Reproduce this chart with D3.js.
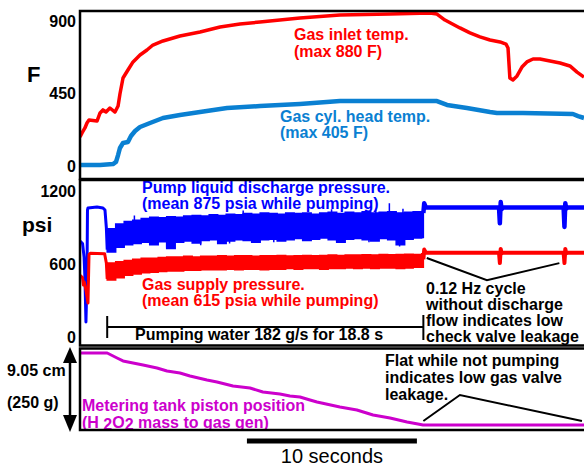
<!DOCTYPE html>
<html>
<head>
<meta charset="utf-8">
<script src="https://cdn.jsdelivr.net/npm/d3@7"></script>
<style>
    body { margin: 0; background: #fff; }
    svg text { font-family: "Liberation Sans", Arial, Helvetica, sans-serif; }
</style>
</head>
<body>
<div id="chart"></div>
<script>
// Test firing trace: temperatures, pressures, metering tank piston

// --- data (time in seconds) ---
const tempTicks = [0, 450, 900];
const psiTicks = [0, 600, 1200];

const inletTime = [0, 0.12, 0.29, 0.41, 0.53, 1.0, 1.18, 1.35, 1.53, 1.76, 2.06, 2.24, 2.35, 2.53, 2.82, 3.12,
    3.53, 3.94, 4.29, 4.88, 5.88, 7.06, 8.24, 9.41, 10.59, 11.76, 12.94, 15.29, 18.24, 20.59, 21.0, 21.47,
    22.35, 22.94, 23.53, 24.12, 24.71, 25.06, 25.18, 25.29, 25.47, 25.71, 26.0, 26.29, 26.65, 27.06, 27.65,
    28.24, 28.82, 29.24, 29.65];
const inletTemp = [180, 205, 236, 267, 286, 279, 329, 348, 335, 360, 335, 372, 447, 546, 596, 646,
    689, 720, 751, 776, 807, 832, 863, 881, 894, 906, 919, 937, 943, 950, 943, 906,
    857, 826, 801, 782, 770, 757, 732, 546, 534, 559, 614, 646, 664, 664, 652,
    639, 621, 583, 552];

const headTime = [0, 1.18, 1.94, 2.12, 2.24, 2.35, 2.53, 2.82, 3.0, 3.24, 3.53, 4.12, 4.88, 5.88, 7.06, 8.65,
    10.59, 12.94, 15.29, 18.24, 21.0, 21.59, 22.76, 24.12, 24.53, 26.06, 29.0, 29.3, 29.65];
const headTemp = [6, 6, 12, 25, 68, 112, 143, 149, 186, 217, 242, 267, 298, 317, 335, 360,
    372, 385, 403, 403, 403, 379, 360, 335, 329, 329, 323, 310, 298];

// before pumping
const pumpPreTime = [0, 0.15, 0.24, 0.29, 0.35, 0.41, 0.44, 0.47, 1.0, 1.35, 1.47, 1.55, 1.6];
const pumpPre = [790, 770, 659, 487, 127, 471, 1044, 1061, 1069, 1061, 1044, 900, 720];
const gasPreTime = [0, 0.15, 0.2, 0.25, 0.35, 0.47, 0.53, 0.6, 1.45, 1.55, 1.6];
const gasPre = [510, 490, 430, 455, 390, 283, 680, 690, 685, 610, 480];

// while pumping: envelope of the pressure oscillation
const bandTime = [1.6, 2.1, 2.6, 3.1, 3.6, 4.1, 4.6, 5.1, 5.6, 6.1, 6.6, 7.1, 7.6, 8.1, 8.6, 9.1, 9.6, 10.1,
    10.6, 11.1, 11.6, 12.1, 12.6, 13.1, 13.6, 14.1, 14.6, 15.1, 15.6, 16.1, 16.6, 17.1, 17.6, 18.1, 18.6,
    19.1, 19.6, 20.1, 20.2];
const pumpHi = [890, 930, 950, 960, 975, 985, 980, 990, 985, 995, 1000, 995, 1005, 1000, 1010, 1005, 1015, 1010,
    1020, 1015, 1010, 1020, 1015, 1020, 1010, 1020, 1025, 1015, 1025, 1020, 1030, 1020, 1025, 1030, 1020,
    1025, 1030, 1020, 1020];
const pumpLo = [700, 740, 760, 770, 780, 760, 785, 730, 780, 790, 775, 795, 800, 770, 790, 800, 795, 780,
    800, 805, 790, 800, 810, 795, 805, 815, 800, 780, 805, 810, 800, 790, 810, 800, 760, 805, 815, 820, 820];
const gasHi = [610, 620, 630, 640, 650, 650, 655, 660, 660, 665, 660, 665, 665, 670, 665, 670, 670, 665,
    670, 670, 672, 668, 670, 672, 670, 672, 675, 672, 675, 675, 678, 675, 680, 678, 680, 682, 680, 685, 685];
const gasLo = [470, 490, 510, 520, 530, 535, 540, 545, 545, 550, 550, 555, 555, 555, 560, 555, 560, 560,
    555, 560, 560, 565, 560, 565, 565, 560, 565, 565, 570, 565, 570, 565, 570, 570, 565, 570, 575, 575, 575];
const spikeTime = [3.2, 5.1, 7.1, 8.8, 9.6, 11.4, 13.2, 14.8, 15.1, 17.0, 17.4, 18.2, 18.8, 19.0];
const spikePsi = [1000, 735, 755, 770, 1040, 780, 790, 1050, 785, 780, 1045, 1100, 745, 1055];

// after pumping
const postTime = [20.2, 20.25, 20.35, 24.65, 24.7, 24.75, 24.8, 24.9, 28.45, 28.5, 28.55, 28.6, 28.7, 29.65];
const pumpPost = [1020, 1100, 1065, 1065, 935, 1110, 1050, 1065, 1065, 905, 1100, 1055, 1065, 1065];
const gasPost = [640, 720, 695, 695, 610, 725, 690, 695, 695, 610, 725, 690, 695, 695];

// metering tank piston position (cm)
const pistonTime = [0, 1.6, 2.18, 2.53, 3.12, 3.71, 4.53, 5.12, 5.88, 6.47, 7.47, 8.06, 9.0, 10.0, 10.76,
    11.76, 12.35, 12.94, 13.53, 13.94, 15.29, 16.29, 17.24, 18.24, 19.24, 19.88, 20.18, 29.65];
const pistonCm = [8.5, 8.5, 7.95, 7.62, 7.40, 7.17, 6.84, 6.51, 6.29, 5.96, 5.52, 5.30, 4.86, 4.64, 4.19,
    3.97, 3.75, 3.64, 3.31, 3.09, 2.54, 2.21, 1.66, 1.32, 0.88, 0.66, 0.55, 0.55];

const pumpStart = 1.6;
const pumpEnd = 20.2;
const scaleBarStart = 9.82;
const scaleBarLength = 10;

const checkCallT = [20.4, 23.94, 28.2];
const checkCallPsi = [651, 470, 609];
const flatCallT = [20.2, 22.35, 29.53];
const flatCallCm = [0.99, 3.86, 0.99];

// --- layout ---
const width = 584, height = 468;
const plotLeft = 80, plotRight = 584;
const panels = [
    { top: 11, bottom: 179 },
    { top: 180, bottom: 345.5 },
    { top: 348.5, bottom: 430 }
];

const x = d3.scaleLinear().domain([0, 29.65]).range([plotLeft, plotRight]);
const yTemp = d3.scaleLinear().domain([0, 900]).range([166, 21]);
const yPsi = d3.scaleLinear().domain([0, 1200]).range([337.5, 191]);
const yPos = d3.scaleLinear().domain([0, 9.05]).range([430, 348]);

const RED = "#ff0000", HEAD = "#0a80d2", BLUE = "#0000ff", MAG = "#cc00cc";

const svg = d3.select("#chart").append("svg")
    .attr("width", width)
    .attr("height", height);

svg.append("rect").attr("width", width).attr("height", height).attr("fill", "#fff");

const defs = svg.append("defs");
panels.forEach((p, i) => {
    defs.append("clipPath").attr("id", "clip" + i)
        .append("rect")
        .attr("x", plotLeft).attr("y", p.top)
        .attr("width", plotRight - plotLeft + 10).attr("height", p.bottom - p.top);
});

const zip = (ts, vs) => ts.map((t, i) => [t, vs[i]]);

function drawLine(g, ts, vs, yScale, color, w, curve) {
    g.append("path")
        .datum(zip(ts, vs))
        .attr("fill", "none")
        .attr("stroke", color)
        .attr("stroke-width", w)
        .attr("stroke-linejoin", "round")
        .attr("d", d3.line().curve(curve || d3.curveLinear).x(d => x(d[0])).y(d => yScale(d[1])));
}

function styleAxis(g) {
    g.select(".domain").remove();
    g.attr("font-family", null).attr("font-size", 16).attr("font-weight", "bold");
    g.selectAll("text").attr("fill", "#000");
}

function addText(lines, x0, y0, dy, color, size, weight) {
    const t = svg.append("text")
        .attr("x", x0).attr("y", y0)
        .attr("fill", color)
        .attr("font-size", size || 16)
        .attr("font-weight", weight || "bold");
    lines.forEach((l, i) => {
        t.append("tspan").attr("x", x0).attr("y", y0 + i * dy).text(l);
    });
    return t;
}

// --- panel 1: temperatures ---
const g1 = svg.append("g").attr("clip-path", "url(#clip0)");
drawLine(g1, inletTime, inletTemp, yTemp, RED, 3.5);
drawLine(g1, headTime, headTemp, yTemp, HEAD, 4.5);

svg.append("g").attr("transform", `translate(${plotLeft},0)`)
    .call(d3.axisLeft(yTemp).tickValues(tempTicks).tickFormat(d3.format("d")).tickSize(0).tickPadding(4))
    .call(styleAxis);

addText(["F"], 27, 82, 0, "#000", 22);
addText(["Gas inlet temp.", "(max 880 F)"], 294, 40, 16.5, RED);
addText(["Gas cyl. head temp.", "(max 405 F)"], 280, 122, 16, HEAD);

// --- panel 2: pressures ---
const g2 = svg.append("g").attr("clip-path", "url(#clip1)");

g2.append("path")
    .datum(bandTime.map((t, i) => [t, pumpLo[i], pumpHi[i]]))
    .attr("fill", BLUE).attr("stroke", BLUE).attr("stroke-width", 1.5)
    .attr("d", d3.area().curve(d3.curveStepAfter).x(d => x(d[0])).y0(d => yPsi(d[1])).y1(d => yPsi(d[2])));

g2.selectAll("line.spike")
    .data(zip(spikeTime, spikePsi))
    .join("line")
    .attr("class", "spike")
    .attr("x1", d => x(d[0])).attr("x2", d => x(d[0]))
    .attr("y1", yPsi(900)).attr("y2", d => yPsi(d[1]))
    .attr("stroke", BLUE).attr("stroke-width", 1.5);

g2.append("path")
    .datum(bandTime.map((t, i) => [t, gasLo[i], gasHi[i]]))
    .attr("fill", RED).attr("stroke", RED).attr("stroke-width", 1.5)
    .attr("d", d3.area().curve(d3.curveStepAfter).x(d => x(d[0])).y0(d => yPsi(d[1])).y1(d => yPsi(d[2])));

drawLine(g2, pumpPreTime, pumpPre, yPsi, BLUE, 3);
drawLine(g2, gasPreTime, gasPre, yPsi, RED, 3);
drawLine(g2, postTime, pumpPost, yPsi, BLUE, 4.5);
drawLine(g2, postTime, gasPost, yPsi, RED, 4);

svg.append("g").attr("transform", `translate(${plotLeft},0)`)
    .call(d3.axisLeft(yPsi).tickValues(psiTicks).tickFormat(d3.format("d")).tickSize(0).tickPadding(4))
    .call(styleAxis);

addText(["psi"], 22, 232, 0, "#000", 21);
addText(["Pump liquid discharge pressure.", "(mean 875 psia while pumping)"], 142, 193, 16, BLUE);
addText(["Gas supply pressure.", "(mean 615 psia while pumping)"], 142, 290, 15.5, RED);

// pumping bracket
const bracketY = 327;
svg.append("line")
    .attr("x1", x(pumpStart)).attr("x2", x(pumpEnd))
    .attr("y1", bracketY).attr("y2", bracketY)
    .attr("stroke", "#000").attr("stroke-width", 2);
[[pumpStart, 316, 338], [pumpEnd, 315, 340]].forEach(([t, a, b]) => {
    svg.append("line")
        .attr("x1", x(t)).attr("x2", x(t)).attr("y1", a).attr("y2", b)
        .attr("stroke", "#000").attr("stroke-width", 2);
});
addText(["Pumping water 182 g/s for 18.8 s"], 135, 340, 0, "#000");

svg.append("path")
    .datum(zip(checkCallT, checkCallPsi))
    .attr("fill", "none").attr("stroke", "#000").attr("stroke-width", 2)
    .attr("d", d3.line().x(d => x(d[0])).y(d => yPsi(d[1])));
addText(["0.12 Hz cycle", "without discharge", "flow indicates low", "check valve leakage"], 426, 294, 16, "#000");

// --- panel 3: metering tank piston ---
const g3 = svg.append("g").attr("clip-path", "url(#clip2)");
drawLine(g3, pistonTime, pistonCm, yPos, MAG, 3);

svg.append("path")
    .datum(zip(flatCallT, flatCallCm))
    .attr("fill", "none").attr("stroke", "#000").attr("stroke-width", 2)
    .attr("d", d3.line().x(d => x(d[0])).y(d => yPos(d[1])));
addText(["Flat while not pumping", "indicates low gas valve", "leakage."], 385, 366, 17, "#000");

addText(["Metering tank piston position"], 82, 411, 0, MAG);
const h2o2 = svg.append("text")
    .attr("x", 82).attr("y", 428)
    .attr("fill", MAG).attr("font-size", 16).attr("font-weight", "bold");
h2o2.append("tspan").text("(H ");
h2o2.append("tspan").attr("dy", 1.5).text("2");
h2o2.append("tspan").attr("dy", -1.5).text("O");
h2o2.append("tspan").attr("dy", 1.5).text("2");
h2o2.append("tspan").attr("dy", -1.5).text(" mass to gas gen)");

// double arrow showing full 9.05 cm travel
const arrowX = 70;
svg.append("line")
    .attr("x1", arrowX).attr("x2", arrowX)
    .attr("y1", yPos(9.05) + 10).attr("y2", yPos(0) - 10)
    .attr("stroke", "#000").attr("stroke-width", 2.5);
svg.append("path")
    .attr("d", `M${arrowX},${yPos(9.05) - 1} L${arrowX - 7},${yPos(9.05) + 15} L${arrowX + 7},${yPos(9.05) + 15}Z`)
    .attr("fill", "#000");
svg.append("path")
    .attr("d", `M${arrowX},${yPos(0) + 2} L${arrowX - 7},${yPos(0) - 15} L${arrowX + 7},${yPos(0) - 15}Z`)
    .attr("fill", "#000");
addText(["9.05 cm"], 7, 376, 0, "#000");
addText(["(250 g)"], 7, 408, 0, "#000");

// --- frames ---
panels.forEach(p => {
    svg.append("rect")
        .attr("x", plotLeft).attr("y", p.top)
        .attr("width", plotRight - plotLeft + 20).attr("height", p.bottom - p.top)
        .attr("fill", "none").attr("stroke", "#000").attr("stroke-width", 2.5);
});

// --- time scale bar ---
svg.append("line")
    .attr("x1", x(scaleBarStart)).attr("x2", x(scaleBarStart + scaleBarLength))
    .attr("y1", 441).attr("y2", 441)
    .attr("stroke", "#000").attr("stroke-width", 5);
svg.append("text")
    .attr("x", (x(scaleBarStart) + x(scaleBarStart + scaleBarLength)) / 2)
    .attr("y", 463)
    .attr("text-anchor", "middle")
    .attr("font-size", 20)
    .attr("fill", "#000")
    .text("10 seconds");
</script>
</body>
</html>
